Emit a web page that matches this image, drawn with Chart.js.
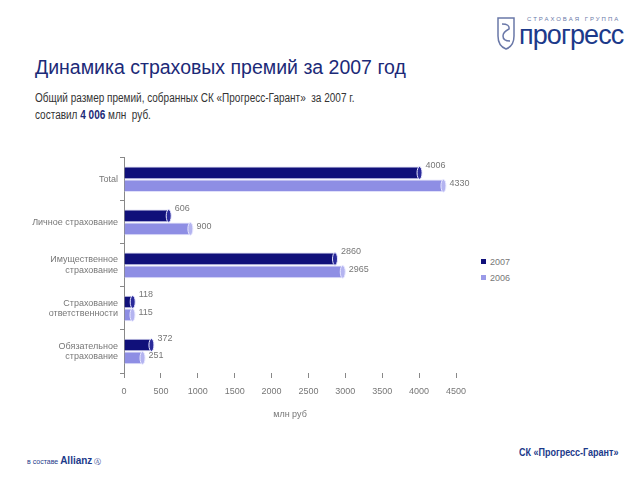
<!DOCTYPE html>
<html>
<head>
<meta charset="utf-8">
<script src="https://cdn.jsdelivr.net/npm/chart.js@4/dist/chart.umd.min.js"></script>
<style>
    body { margin: 0; width: 640px; height: 480px; background: #fff; position: relative; overflow: hidden; font-family: "Liberation Sans", Arial, sans-serif; }
    #title { position: absolute; left: 35px; top: 56px; font-size: 19.5px; color: #1c2a78; white-space: nowrap; }
    #sub { position: absolute; left: 35px; top: 90px; font-size: 12.5px; line-height: 17px; color: #333; white-space: nowrap; transform: scaleX(0.8); transform-origin: left top; }
    #sub b { color: #1c2a78; }
    #chartBox { position: absolute; left: 0; top: 145px; width: 480px; height: 280px; }
    #legend { position: absolute; left: 481px; top: 254px; font-size: 9px; color: #777; line-height: 16px; }
    #legend span.sq { display: inline-block; width: 5px; height: 5px; margin-right: 4px; vertical-align: 1px; }
    #logo { position: absolute; left: 496px; top: 14px; width: 140px; height: 40px; }
    #logo .small { position: absolute; left: 31px; top: 2px; font-size: 6px; letter-spacing: 2px; color: #6a78a8; white-space: nowrap; }
    #logo .big { position: absolute; left: 23px; top: 6px; font-size: 27px; color: #1c3a8a; letter-spacing: -0.9px; white-space: nowrap; }
    #allianz { position: absolute; left: 27px; top: 455px; font-size: 7px; color: #1c3a8a; white-space: nowrap; }
    #allianz b { font-size: 10px; }
    #company { position: absolute; left: 519px; top: 447px; font-size: 10px; font-weight: bold; color: #1c3a8a; white-space: nowrap; transform: scaleX(0.9); transform-origin: left top; }
</style>
</head>
<body>
<div id="logo">
    <svg width="20" height="34" style="position:absolute;left:0;top:2px">
        <path d="M2 2 H18 V20 Q18 30 10 33 Q2 30 2 20 Z" fill="none" stroke="#6a78a8" stroke-width="1.5"/>
        <path d="M6 8 Q14 8 13 13 Q7 16 7 20 Q7 25 14 25" fill="none" stroke="#6a78a8" stroke-width="1.5"/>
    </svg>
    <div class="small">СТРАХОВАЯ ГРУППА</div>
    <div class="big">прогресс</div>
</div>
<div id="title">Динамика страховых премий за 2007 год</div>
<div id="sub">Общий размер премий, собранных СК «Прогресс-Гарант»&nbsp; за 2007 г.<br>составил <b>4 006</b> млн&nbsp; руб.</div>
<div id="chartBox"><canvas id="premChart"></canvas></div>
<div id="legend">
    <div><span class="sq" style="background:#10107a"></span>2007</div>
    <div><span class="sq" style="background:#9a9ae8"></span>2006</div>
</div>
<div id="allianz">в составе <b>Allianz</b> Ⓐ</div>
<div id="company">СК «Прогресс-Гарант»</div>

<script>
const categories = [
    "Total",
    "Личное страхование",
    ["Имущественное", "страхование"],
    ["Страхование", "ответственности"],
    ["Обязательное", "страхование"]
];
const values2007 = [4006, 606, 2860, 118, 372];
const values2006 = [4330, 900, 2965, 115, 251];
const xTicks = [0, 500, 1000, 1500, 2000, 2500, 3000, 3500, 4000, 4500];

function cylinder(base, light) {
    return function (context) {
        const el = context.element;
        const area = context.chart.chartArea;
        if (!el || !area || el.y === undefined) {
            return base;
        }
        const h = el.height || 12;
        const g = context.chart.ctx.createLinearGradient(0, el.y - h / 2, 0, el.y + h / 2);
        g.addColorStop(0, light);
        g.addColorStop(0.35, base);
        g.addColorStop(1, base);
        return g;
    };
}

const barExtras = {
    id: "barExtras",
    afterDatasetsDraw(chart) {
        const ctx = chart.ctx;
        chart.data.datasets.forEach(function (ds, di) {
            const meta = chart.getDatasetMeta(di);
            meta.data.forEach(function (bar, i) {
                const h = bar.height;
                // end cap of the cylinder
                ctx.save();
                ctx.beginPath();
                ctx.ellipse(bar.x, bar.y, 2.5, h / 2, 0, 0, Math.PI * 2);
                ctx.fillStyle = di === 0 ? "#2a2a9a" : "#b4b4f0";
                ctx.fill();
                ctx.strokeStyle = "#e8e8ff";
                ctx.lineWidth = 1;
                ctx.stroke();
                ctx.restore();
                // value label
                ctx.save();
                ctx.font = "9px 'Liberation Sans', Arial, sans-serif";
                ctx.fillStyle = "#777";
                ctx.textBaseline = "middle";
                ctx.fillText(String(ds.data[i]), bar.x + 6, di === 0 ? bar.y - 7 : bar.y - 2);
                ctx.restore();
            });
        });
    }
};

new Chart(document.getElementById("premChart"), {
    type: "bar",
    data: {
        labels: categories,
        datasets: [
            {
                label: "2007",
                data: values2007,
                backgroundColor: cylinder("#10107a", "#4a4aa8"),
                borderColor: "#d0d0f0",
                borderWidth: 1,
                categoryPercentage: 0.6,
                barPercentage: 0.98,
            },
            {
                label: "2006",
                data: values2006,
                backgroundColor: cylinder("#8e8ee4", "#c8c8f6"),
                borderColor: "#e0e0fa",
                borderWidth: 1,
                categoryPercentage: 0.6,
                barPercentage: 0.98,
            },
        ],
    },
    options: {
        indexAxis: "y",
        responsive: true,
        maintainAspectRatio: false,
        animation: false,
        layout: { padding: { top: 0, right: 24, bottom: 5, left: 0 } },
        plugins: {
            legend: { display: false },
            tooltip: { enabled: false },
        },
        scales: {
            x: {
                min: 0,
                max: 4500,
                afterBuildTicks: function (s) {
                    s.ticks = xTicks.map(function (v) { return { value: v }; });
                },
                afterFit: function (s) { s.height = 47; },
                border: { display: false },
                grid: { drawOnChartArea: false, tickLength: 5, color: "#888", offset: false },
                ticks: {
                    color: "#777",
                    font: { size: 9, family: "'Liberation Sans', Arial" },
                    padding: 8,
                    maxRotation: 0,
                    callback: function (v) { return String(v); },
                },
                title: { display: true, text: "млн руб", color: "#777", font: { size: 9, family: "'Liberation Sans', Arial" }, padding: { top: 4, bottom: 0 } },
            },
            y: {
                afterFit: function (s) { s.width = 124; },
                border: { display: true, color: "#888" },
                grid: { drawOnChartArea: false, offset: true, tickLength: 4, color: "#888" },
                ticks: { color: "#777", font: { size: 9, family: "'Liberation Sans', Arial" }, padding: 2 },
            },
        },
    },
    plugins: [barExtras],
});
</script>
</body>
</html>
